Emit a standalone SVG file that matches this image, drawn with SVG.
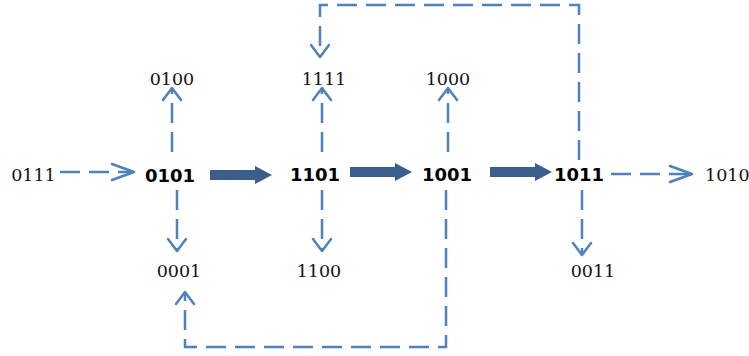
<svg xmlns="http://www.w3.org/2000/svg" width="749" height="356" viewBox="0 0 749 356">
  <style>
    .lbl { font-family: "DejaVu Serif", "Liberation Serif", serif; font-size: 17.5px; fill: #111; text-anchor: middle; }
    .key { font-family: "DejaVu Sans", "Liberation Sans", sans-serif; font-size: 18px; font-weight: bold; fill: #000; text-anchor: middle; }
    .dash { fill: none; stroke: #4f81bd; stroke-width: 2.5; stroke-dasharray: 20 9; }
    .bold-arrow { fill: #3b5e8c; }
  </style>
  <defs>
    <marker id="openHead" markerUnits="userSpaceOnUse" markerWidth="30" markerHeight="30" viewBox="-20 -15 30 30" refX="0" refY="0" orient="auto">
      <path d="M-12,-9 L0,0 L-12,9" fill="none" stroke="#4f81bd" stroke-width="2.5" stroke-linecap="round" stroke-linejoin="round"/>
    </marker>
    <marker id="openHeadLong" markerUnits="userSpaceOnUse" markerWidth="40" markerHeight="30" viewBox="-30 -15 40 30" refX="0" refY="0" orient="auto">
      <path d="M-22,-8 L0,0 L-22,8" fill="none" stroke="#4f81bd" stroke-width="2.5" stroke-linecap="round" stroke-linejoin="round"/>
    </marker>
    <path id="fatArrow" d="M0,-5 H45 V-9 L62,0 L45,9 V5 H0 Z"/>
  </defs>

  <!-- connectors -->
  <g id="connectors">
    <path class="dash" d="M60,172 H134" marker-end="url(#openHeadLong)"/>
    <use href="#fatArrow" class="bold-arrow" x="210" y="175"/>
    <use href="#fatArrow" class="bold-arrow" x="350" y="172"/>
    <use href="#fatArrow" class="bold-arrow" x="490" y="172"/>
    <path class="dash" d="M611,174 H692" marker-end="url(#openHeadLong)"/>

    <path class="dash" d="M172,152 V88" marker-end="url(#openHead)"/>
    <path class="dash" d="M177,190 V251" marker-end="url(#openHead)"/>
    <path class="dash" d="M322,152 V88" marker-end="url(#openHead)"/>
    <path class="dash" d="M322,190 V251" marker-end="url(#openHead)"/>
    <path class="dash" d="M448,152 V88" marker-end="url(#openHead)"/>
    <path class="dash" d="M582,190 V255" marker-end="url(#openHead)"/>

    <path class="dash" d="M446,190 V347 H185 V292" marker-end="url(#openHead)"/>
    <path class="dash" d="M579,160 V5 H320 V57" marker-end="url(#openHead)"/>
  </g>

  <!-- nodes -->
  <g id="n0111"><text class="lbl" x="33.5" y="181">0111</text></g>
  <g id="n0101"><text class="key" x="170" y="182">0101</text></g>
  <g id="n1101"><text class="key" x="315" y="181">1101</text></g>
  <g id="n1001"><text class="key" x="447" y="181">1001</text></g>
  <g id="n1011"><text class="key" x="579" y="181">1011</text></g>
  <g id="n1010"><text class="lbl" x="705" y="181" style="text-anchor:start">1010</text></g>
  <g id="n0100"><text class="lbl" x="172" y="85">0100</text></g>
  <g id="n1111"><text class="lbl" x="324" y="85">1111</text></g>
  <g id="n1000"><text class="lbl" x="448" y="85">1000</text></g>
  <g id="n0001"><text class="lbl" x="179" y="277">0001</text></g>
  <g id="n1100"><text class="lbl" x="319" y="277">1100</text></g>
  <g id="n0011"><text class="lbl" x="593" y="277">0011</text></g>
</svg>
